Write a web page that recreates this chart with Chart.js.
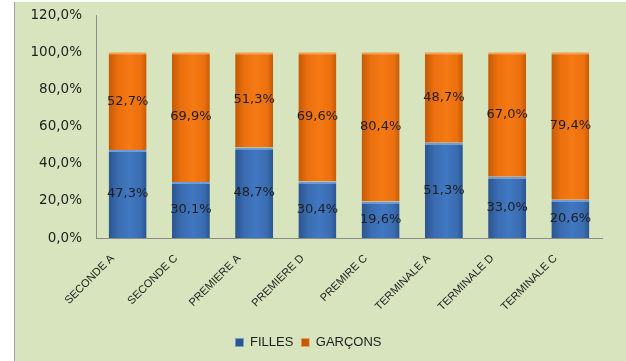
<!DOCTYPE html>
<html>
<head>
<meta charset="utf-8">
<script src="https://cdn.jsdelivr.net/npm/chart.js@4.4.1/dist/chart.umd.min.js"></script>
<style>
  html, body { margin: 0; padding: 0; background: #ffffff; }
  #wrap { position: absolute; left: 14px; top: 2px; width: 612px; height: 359px; background: #d7e4bd; border-left: 1px solid #9aa3ad; box-sizing: border-box; }
  canvas { display: block; }
</style>
</head>
<body>
<div id="wrap"><canvas id="classChart" width="611" height="359"></canvas></div>
<script>
var categories = ["SECONDE A", "SECONDE C", "PREMIERE A", "PREMIERE D", "PREMIRE C", "TERMINALE A", "TERMINALE D", "TERMINALE C"];
var filles = [47.3, 30.1, 48.7, 30.4, 19.6, 51.3, 33.0, 20.6];
var garcons = [52.7, 69.9, 51.3, 69.6, 80.4, 48.7, 67.0, 79.4];
var yTicks = [0, 20, 40, 60, 80, 100, 120];

function fmt(v) {
    return v.toFixed(1).replace('.', ',') + '%';
}

// horizontal shading so the bars look a bit rounded, like the original
function barShade(dark, mid, light) {
    return function (ctx) {
        var chart = ctx.chart;
        var xs = chart.scales.x;
        if (!xs || ctx.type !== 'data') return mid;
        var cx = xs.getPixelForValue(ctx.dataIndex);
        if (!isFinite(cx)) return mid;
        var half = 19;
        var g = chart.ctx.createLinearGradient(cx - half, 0, cx + half, 0);
        g.addColorStop(0, dark);
        g.addColorStop(0.25, mid);
        g.addColorStop(0.55, light);
        g.addColorStop(0.85, mid);
        g.addColorStop(1, dark);
        return g;
    };
}

var segmentLabels = {
    id: 'segmentLabels',
    afterDatasetsDraw: function (chart) {
        var ctx = chart.ctx;
        ctx.save();
        ctx.font = '13px "DejaVu Sans"';
        ctx.fillStyle = '#1e1e1e';
        ctx.textAlign = 'center';
        ctx.textBaseline = 'middle';
        chart.data.datasets.forEach(function (ds, di) {
            var meta = chart.getDatasetMeta(di);
            meta.data.forEach(function (bar, i) {
                var y = (bar.y + bar.base) / 2;
                ctx.fillText(fmt(ds.data[i]), bar.x, y);
            });
        });
        ctx.restore();
    }
};

var classChart = new Chart(document.getElementById('classChart'), {
    type: 'bar',
    data: {
        labels: categories,
        datasets: [{
                label: 'FILLES',
                data: filles,
                backgroundColor: barShade('#2a5590', '#3a6cb0', '#4178c2'),
                borderColor: '#6a9ee0',
                borderWidth: { top: 2, left: 0, right: 0, bottom: 0 },
                borderSkipped: false
            }, {
                label: 'GARÇONS',
                data: garcons,
                backgroundColor: barShade('#c45a06', '#ec700e', '#f47a14'),
                borderColor: '#f7a04e',
                borderWidth: { top: 2, left: 0, right: 0, bottom: 0 },
                borderSkipped: false
            }]
    },
    options: {
        responsive: false,
        animation: false,
        layout: {
            padding: { top: 13, right: 24, bottom: 2, left: 0 }
        },
        datasets: {
            bar: { barPercentage: 0.6, categoryPercentage: 1.0 }
        },
        scales: {
            x: {
                stacked: true,
                grid: { display: false, drawTicks: false },
                border: { display: true, color: '#8c8c8c', width: 1 },
                ticks: {
                    minRotation: 45,
                    maxRotation: 45,
                    padding: 14,
                    labelOffset: -15,
                    color: '#1e1e1e',
                    font: { family: '"Liberation Sans"', size: 11 }
                },
                afterFit: function (scale) { scale.height = 90; }
            },
            y: {
                stacked: true,
                min: 0,
                max: 120,
                afterBuildTicks: function (scale) {
                    scale.ticks = yTicks.map(function (v) { return { value: v }; });
                },
                grid: { display: false, drawTicks: false },
                border: { display: true, color: '#8c8c8c', width: 1 },
                ticks: {
                    padding: 14,
                    color: '#1e1e1e',
                    font: { family: '"DejaVu Sans"', size: 13.5 },
                    callback: function (v) { return fmt(v); }
                },
                afterFit: function (scale) {
                    scale.width = 81;
                    scale.paddingTop = 0;
                    scale.paddingBottom = 0;
                }
            }
        },
        plugins: {
            legend: {
                position: 'bottom',
                labels: {
                    boxWidth: 8,
                    boxHeight: 8,
                    padding: 8,
                    color: '#1e1e1e',
                    font: { family: '"Liberation Sans"', size: 13 }
                }
            },
            tooltip: { enabled: false }
        }
    },
    plugins: [segmentLabels]
});
</script>
</body>
</html>
